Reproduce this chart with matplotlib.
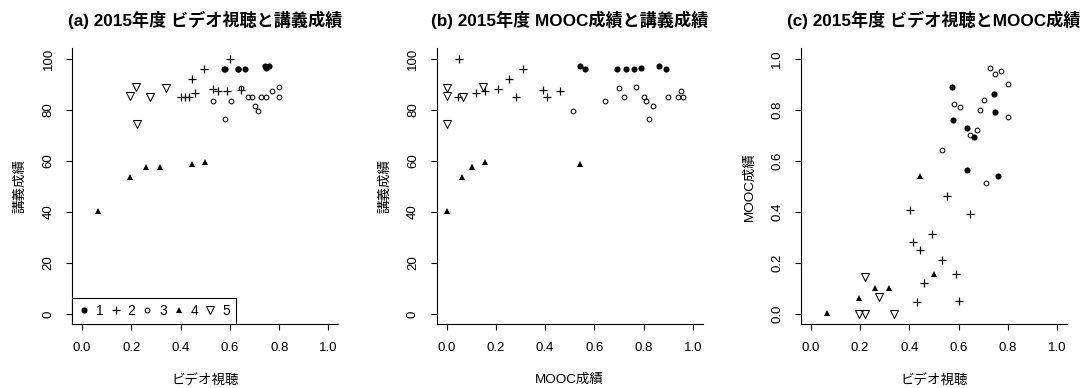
import matplotlib
matplotlib.use("Agg")
import matplotlib.pyplot as plt
import numpy as np

plt.rcParams['font.family'] = ['Liberation Sans', 'Noto Sans CJK JP']

# ---- data (one entry per student) ----
group = [1]*8 + [2]*11 + [3]*13 + [4]*6 + [5]*5
video = [0.574, 0.744, 0.579, 0.748, 0.632, 0.663, 0.632, 0.758,
         0.600, 0.493, 0.445, 0.402, 0.416, 0.433, 0.460, 0.533, 0.551, 0.589, 0.646,
         0.712, 0.533, 0.605, 0.580, 0.646, 0.702, 0.800, 0.770, 0.673, 0.688, 0.728, 0.747, 0.801,
         0.066, 0.195, 0.260, 0.317, 0.444, 0.500,
         0.219, 0.277, 0.196, 0.221, 0.339]
mooc = [0.889, 0.861, 0.760, 0.791, 0.730, 0.691, 0.562, 0.542,
        0.050, 0.312, 0.252, 0.409, 0.282, 0.048, 0.120, 0.210, 0.461, 0.158, 0.392,
        0.512, 0.642, 0.810, 0.821, 0.701, 0.839, 0.770, 0.950, 0.722, 0.800, 0.961, 0.938, 0.901,
        0.003, 0.063, 0.104, 0.104, 0.542, 0.155,
        0.146, 0.067, 0.0, 0.0, 0.0]
lecture = [96, 97, 96, 96.3, 96, 96, 96, 97,
           100, 96, 92, 85, 85, 85, 86.5, 88, 87.2, 87.2, 87.8,
           79.3, 83.3, 83.3, 76.3, 88.3, 81.3, 89, 87.2, 85, 85, 85, 85, 85,
           40.2, 53.5, 57.6, 57.6, 58.7, 59.6,
           88.9, 84.8, 85.5, 74.5, 88.3]
group_labels = ['1', '2', '3', '4', '5']

titles = ['(a) 2015年度 ビデオ視聴と講義成績',
          '(b) 2015年度 MOOC成績と講義成績',
          '(c) 2015年度 ビデオ視聴とMOOC成績']
xlabels = ['ビデオ視聴', 'MOOC成績', 'ビデオ視聴']
ylabels = ['講義成績', '講義成績', 'MOOC成績']

# ---- styles ----
styles = {
    1: dict(marker='o', markersize=4.4, markerfacecolor='black', markeredgecolor='black', markeredgewidth=0),
    2: dict(marker='+', markersize=6.3, markeredgecolor='black', markeredgewidth=0.9),
    3: dict(marker='o', markersize=3.4, markerfacecolor='none', markeredgecolor='black', markeredgewidth=0.75),
    4: dict(marker='^', markersize=4.5, markerfacecolor='black', markeredgecolor='black', markeredgewidth=0),
    5: dict(marker='v', markersize=5.3, markerfacecolor='none', markeredgecolor='black', markeredgewidth=0.75),
}

g = np.array(group)
v = np.array(video)
m = np.array(mooc)
l = np.array(lecture)

fig = plt.figure(figsize=(10.82, 3.88), dpi=100)
H = 388.0
W = 1082.0
bottom = (H - 324.3) / H
height = (324.3 - 48.3) / H
lefts_px = [72.3, 436.7, 801.0]
width = 266.0 / W

panels = [(v, l, (0, 100)), (m, l, (0, 100)), (v, m, (0, 1))]

for i, (xs, ys, yr) in enumerate(panels):
    ax = fig.add_axes([lefts_px[i] / W, bottom, width, height])
    handles = []
    for k in range(1, 6):
        sel = g == k
        h, = ax.plot(xs[sel], ys[sel], linestyle='none', **styles[k], label=group_labels[k - 1])
        handles.append(h)
    ax.set_xlim(-0.04, 1.04)
    span = yr[1] - yr[0]
    ax.set_ylim(yr[0] - 0.04 * span, yr[1] + 0.04 * span)
    ax.set_xticks(np.linspace(0, 1, 6))
    ax.set_xticklabels(['0.0', '0.2', '0.4', '0.6', '0.8', '1.0'])
    if yr[1] == 100:
        yt = np.arange(0, 101, 20)
        ax.set_yticks(yt)
        ax.set_yticklabels([str(t) for t in yt], rotation=90, va='center')
    else:
        yt = np.linspace(0, 1, 6)
        ax.set_yticks(yt)
        ax.set_yticklabels(['%.1f' % t for t in yt], rotation=90, va='center')
    for s in ['top', 'right']:
        ax.spines[s].set_visible(False)
    for s in ['left', 'bottom']:
        ax.spines[s].set_linewidth(0.8)
    ax.tick_params(direction='out', length=4.3, width=0.8, labelsize=9.5, pad=8.5, colors='black')
    ax.set_title(titles[i], fontsize=12.3, fontweight='bold', y=1.1025, pad=0, va='center')
    ax.set_xlabel(xlabels[i], fontsize=9.7, va='center')
    ax.xaxis.set_label_coords(0.5, -0.202)
    ax.set_ylabel(ylabels[i], fontsize=9.7, va='center')
    ax.yaxis.set_label_coords(-0.195, 0.5)
    if i == 0:
        leg = ax.legend(handles=handles, loc='lower left', bbox_to_anchor=(0, 0), borderaxespad=0,
                        ncol=5, numpoints=1, fancybox=False, edgecolor='black', framealpha=1,
                        fontsize=10, handlelength=0.8, handletextpad=0.46, columnspacing=0.45,
                        borderpad=0.46)
        leg.get_frame().set_linewidth(0.8)

fig.savefig('out.png', dpi=100)
